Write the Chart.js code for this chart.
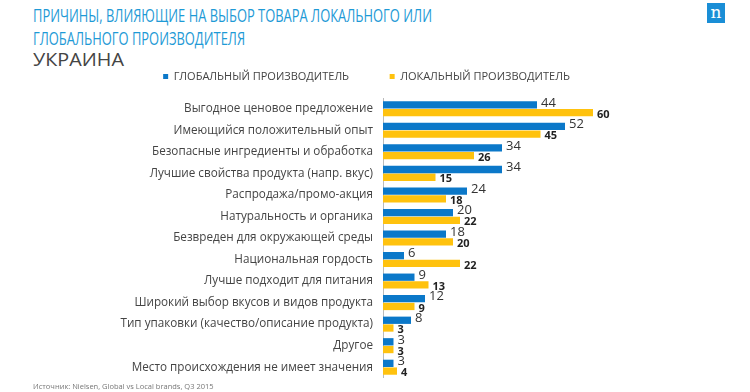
<!DOCTYPE html>
<html>
<head>
<meta charset="utf-8">
<script src="https://cdn.jsdelivr.net/npm/chart.js@4.4.1/dist/chart.umd.min.js"></script>
<style>
  body { margin: 0; background: #fff; font-family: "Open Sans", sans-serif; }
  #wrap { position: relative; width: 750px; height: 392px; overflow: hidden; }
  .title { position: absolute; left: 33px; color: #1e9ad6; font-size: 19px; white-space: nowrap; transform: scaleX(0.68); transform-origin: 0 0; }
  #sub { position: absolute; left: 33px; top: 47px; color: #444; font-size: 18px; transform: scaleX(1.1); transform-origin: 0 0; }
  #logo { position: absolute; left: 707px; top: 3px; width: 18px; height: 20px; background: #1a8ed6; color: #fff; font: 17px "DejaVu Serif", serif; text-align: center; line-height: 18px; }
  #src { position: absolute; left: 33px; top: 381px; color: #777; font-size: 7.5px; }
  #cv { position: absolute; left: 0; top: 59px; }
</style>
</head>
<body>
<div id="wrap">
  <div class="title" style="top:2px">ПРИЧИНЫ, ВЛИЯЮЩИЕ НА ВЫБОР ТОВАРА ЛОКАЛЬНОГО ИЛИ</div>
  <div class="title" style="top:25px">ГЛОБАЛЬНОГО ПРОИЗВОДИТЕЛЯ</div>
  <div id="sub">УКРАИНА</div>
  <div id="logo">n</div>
  <canvas id="cv" width="750" height="333"></canvas>
  <div id="src">Источник: Nielsen, Global vs Local brands, Q3 2015</div>
</div>
<script>
const categories = [
  'Выгодное ценовое предложение',
  'Имеющийся положительный опыт',
  'Безопасные ингредиенты и обработка',
  'Лучшие свойства продукта (напр. вкус)',
  'Распродажа/промо-акция',
  'Натуральность и органика',
  'Безвреден для окружающей среды',
  'Национальная гордость',
  'Лучше подходит для питания',
  'Широкий выбор вкусов и видов продукта',
  'Тип упаковки (качество/описание продукта)',
  'Другое',
  'Место происхождения не имеет значения'
];
const seriesNames = ['ГЛОБАЛЬНЫЙ ПРОИЗВОДИТЕЛЬ', 'ЛОКАЛЬНЫЙ ПРОИЗВОДИТЕЛЬ'];
const globalValues = [44, 52, 34, 34, 24, 20, 18, 6, 9, 12, 8, 3, 3];
const localValues = [60, 45, 26, 15, 18, 22, 20, 22, 13, 9, 3, 3, 4];

// value labels next to each bar
const barLabels = {
  id: 'barLabels',
  afterDatasetsDraw(chart) {
    const ctx = chart.ctx;
    ctx.save();
    ctx.textAlign = 'left';
    ctx.textBaseline = 'middle';
    chart.data.datasets.forEach((ds, i) => {
      chart.getDatasetMeta(i).data.forEach((bar, j) => {
        if (i === 0) {
          ctx.font = '13px "Open Sans"';
          ctx.fillStyle = '#333';
          ctx.fillText(ds.data[j], bar.x + 4, bar.y - 2);
        } else {
          ctx.font = 'bold 11px "Open Sans"';
          ctx.fillStyle = '#222';
          ctx.fillText(ds.data[j], bar.x + 4, bar.y + 2);
        }
      });
    });
    ctx.restore();
  }
};

new Chart(document.getElementById('cv'), {
  type: 'bar',
  data: {
    labels: categories,
    datasets: [
      { label: seriesNames[0], data: globalValues, backgroundColor: '#0b78c9' },
      { label: seriesNames[1], data: localValues, backgroundColor: '#ffc20e' }
    ]
  },
  options: {
    indexAxis: 'y',
    responsive: false,
    animation: false,
    layout: { padding: { top: 0, right: 17, bottom: 7, left: 0 } },
    datasets: { bar: { categoryPercentage: 0.72, barPercentage: 0.94 } },
    plugins: {
      legend: {
        labels: {
          boxWidth: 5, boxHeight: 5, color: '#444',
          font: { family: 'Open Sans', size: 11 },
          padding: 12,
          generateLabels(chart) {
            const items = Chart.defaults.plugins.legend.labels.generateLabels(chart);
            items[0].text = items[0].text + '          ';
            return items;
          }
        }
      },
      tooltip: { enabled: false }
    },
    scales: {
      // hidden x axis, only used as a spacer under the legend
      x: {
        position: 'top', min: 0, max: 100,
        grid: { display: false }, border: { display: false },
        ticks: { display: false },
        afterFit(scale) { scale.height = 6; }
      },
      y: {
        afterFit(scale) { scale.width = 383; },
        grid: { display: false, drawTicks: true, tickLength: 3 },
        border: { color: '#bbb' },
        ticks: { color: '#444', font: { family: 'Open Sans', size: 11.7 }, padding: 7 }
      }
    }
  },
  plugins: [barLabels]
});
</script>
</body>
</html>
